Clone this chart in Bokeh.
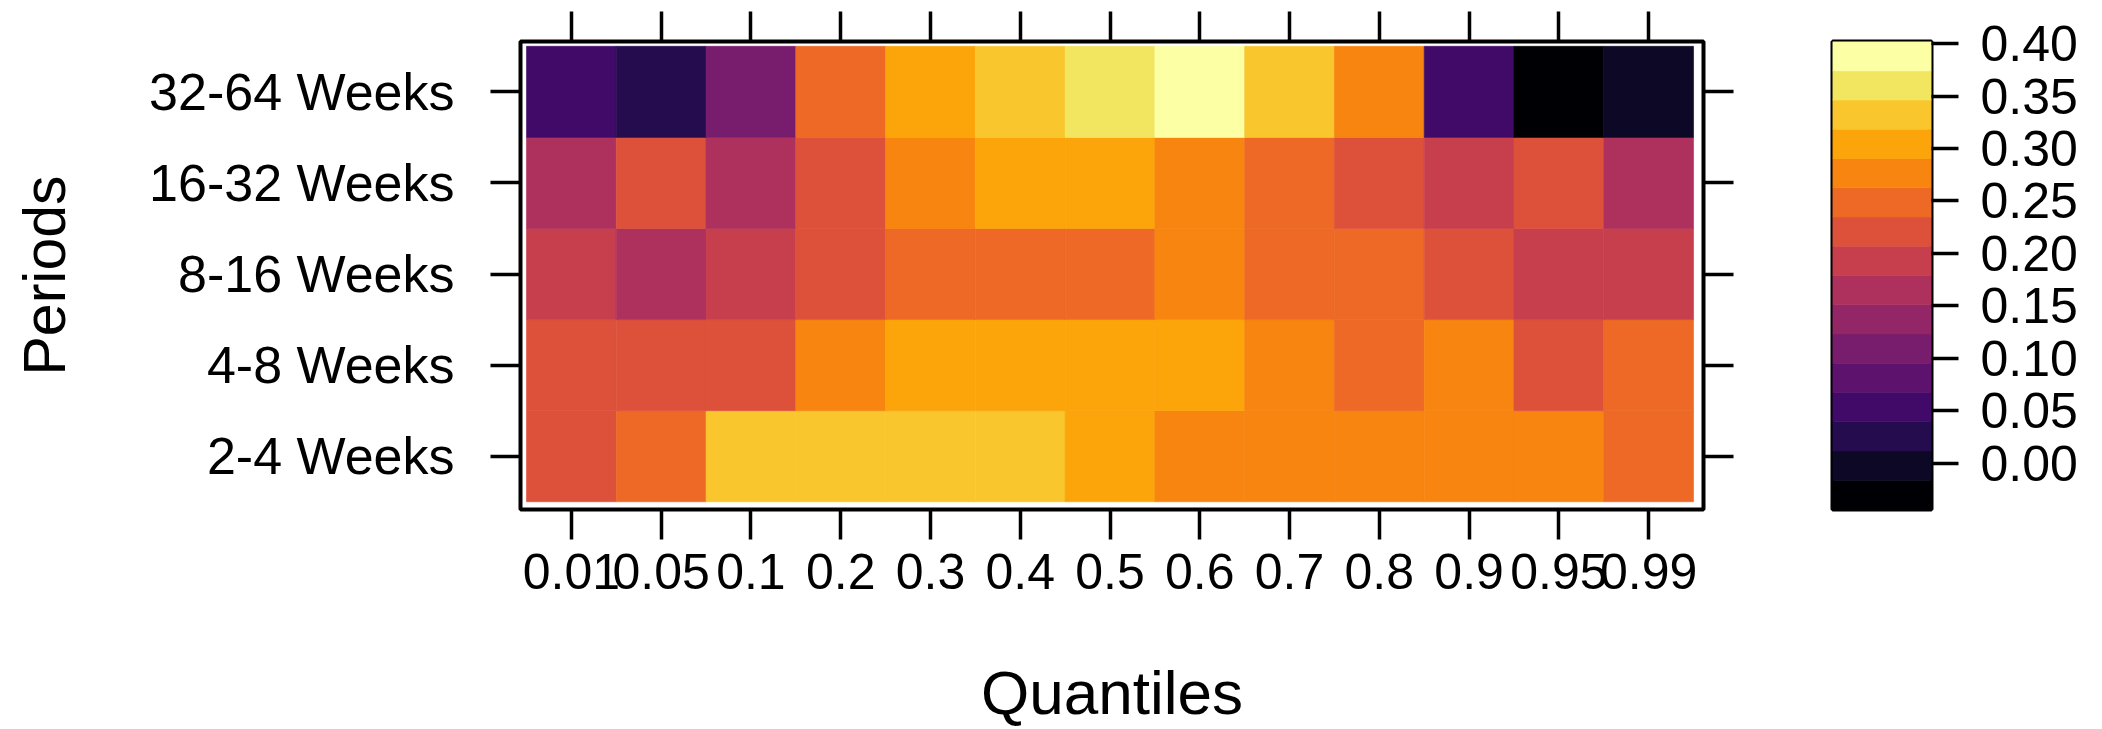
from bokeh.plotting import figure
from bokeh.models import (LinearAxis, FixedTicker, LinearColorMapper,
                          ColumnDataSource, Range1d)
from bokeh.transform import transform
from bokeh.layouts import row
from bokeh.embed import file_html
from bokeh.resources import INLINE

# ---------------- data ----------------
quantiles = ["0.01", "0.05", "0.1", "0.2", "0.3", "0.4", "0.5",
             "0.6", "0.7", "0.8", "0.9", "0.95", "0.99"]
periods = ["2-4 Weeks", "4-8 Weeks", "8-16 Weeks", "16-32 Weeks", "32-64 Weeks"]

weeks_2_4 = [0.215, 0.245, 0.330, 0.335, 0.333, 0.325, 0.300,
             0.280, 0.285, 0.282, 0.278, 0.275, 0.240]
weeks_4_8 = [0.220, 0.222, 0.218, 0.272, 0.298, 0.305, 0.302,
             0.300, 0.275, 0.250, 0.268, 0.215, 0.245]
weeks_8_16 = [0.195, 0.170, 0.192, 0.220, 0.245, 0.250, 0.248,
              0.270, 0.252, 0.248, 0.222, 0.198, 0.194]
weeks_16_32 = [0.165, 0.222, 0.163, 0.218, 0.275, 0.300, 0.303,
               0.280, 0.250, 0.220, 0.195, 0.215, 0.160]
weeks_32_64 = [0.052, 0.025, 0.108, 0.248, 0.305, 0.332, 0.358,
               0.402, 0.330, 0.276, 0.050, -0.044, 0.000]

colorbar_ticks = [0.00, 0.05, 0.10, 0.15, 0.20, 0.25, 0.30, 0.35, 0.40]

palette = ["#000004", "#0C0826", "#240C4F", "#420A68", "#5D126E", "#781C6D",
           "#932667", "#AE305C", "#C73E4C", "#DD513A", "#ED6925", "#F8850F",
           "#FCA50A", "#FAC62D", "#F2E661", "#FCFFA4"]

# ---------------- build table ----------------
rows = [weeks_2_4, weeks_4_8, weeks_8_16, weeks_16_32, weeks_32_64]
xs, ys, vs = [], [], []
for yi, r in enumerate(rows):
    for xi, v in enumerate(r):
        xs.append(xi)
        ys.append(yi)
        vs.append(v)
src = ColumnDataSource(dict(x=xs, y=ys, v=vs))

low, high = min(vs), max(vs)
mapper = LinearColorMapper(palette=palette, low=low, high=high)

FONT = "Liberation Sans"
H = 729
W1 = 1768
W2 = 334

p = figure(width=W1, height=H, output_backend="svg", toolbar_location=None,
           x_range=Range1d(-0.5667, len(quantiles) - 0.5 + 0.111),
           y_range=Range1d(-0.585, len(periods) - 0.5 + 0.053),
           x_axis_location="below", y_axis_location="left",
           min_border_left=520, min_border_right=W1 - 1703,
           min_border_top=41, min_border_bottom=H - 523)
p.rect(x="x", y="y", width=1, height=1, source=src,
       fill_color=transform("v", mapper),
       line_color=transform("v", mapper), line_width=0.6)

p.xgrid.visible = False
p.ygrid.visible = False
p.outline_line_color = "black"
p.outline_line_width = 4
p.background_fill_color = "white"
p.border_fill_color = "white"


def style(ax, ticks, labels):
    ax.ticker = FixedTicker(ticks=ticks)
    ax.axis_line_color = None
    ax.major_tick_in = 0
    ax.major_tick_out = 30
    ax.major_tick_line_width = 3.5
    ax.major_tick_line_color = "black"
    ax.minor_tick_line_color = None
    ax.major_label_text_font = FONT
    ax.major_label_text_color = "black"
    ax.axis_label_text_font = FONT
    ax.axis_label_text_font_style = "normal"
    ax.axis_label_text_color = "black"
    if labels is None:
        ax.major_label_overrides = {t: "" for t in ticks}
        ax.major_label_text_font_size = "1px"
        ax.major_label_standoff = 0
    else:
        ax.major_label_overrides = {t: l for t, l in zip(ticks, labels)}


xt = list(range(len(quantiles)))
yt = list(range(len(periods)))

style(p.xaxis[0], xt, quantiles)
p.xaxis[0].major_label_text_font_size = "50px"
p.xaxis[0].major_label_standoff = 14
p.xaxis[0].axis_label = "Quantiles"
p.xaxis[0].axis_label_text_font_size = "62px"
p.xaxis[0].axis_label_standoff = 66

style(p.yaxis[0], yt, periods)
p.yaxis[0].major_label_text_font_size = "52px"
p.yaxis[0].major_label_standoff = 36
p.yaxis[0].axis_label = "Periods"
p.yaxis[0].axis_label_text_font_size = "59px"
p.yaxis[0].axis_label_standoff = 68

top_ax = LinearAxis()
style(top_ax, xt, None)
p.add_layout(top_ax, "above")
right_ax = LinearAxis()
style(right_ax, yt, None)
p.add_layout(right_ax, "right")

# ---------------- colour key ----------------
n = len(palette)
step = (high - low) / n
bottoms = [low + k * step for k in range(n)]
tops = [low + (k + 1) * step for k in range(n)]
ksrc = ColumnDataSource(dict(b=bottoms, t=tops, c=palette))

k = figure(width=W2, height=H, output_backend="svg", toolbar_location=None,
           x_range=Range1d(0, 1), y_range=Range1d(low, high),
           x_axis_location=None, y_axis_location="right",
           min_border_left=1832 - W1, min_border_right=W2 - (1931 - W1),
           min_border_top=40, min_border_bottom=H - 522)
k.quad(left=0, right=1, bottom="b", top="t", fill_color="c", line_color="c",
       line_width=0.6, source=ksrc)
k.xgrid.visible = False
k.ygrid.visible = False
k.outline_line_color = "black"
k.outline_line_width = 4
k.border_fill_color = "white"
style(k.yaxis[0], colorbar_ticks, ["%.2f" % t for t in colorbar_ticks])
k.yaxis[0].major_tick_out = 27
k.yaxis[0].major_label_text_font_size = "50px"
k.yaxis[0].major_label_standoff = 22

layout = row(p, k)
open("out.html", "w").write(file_html(layout, INLINE))
